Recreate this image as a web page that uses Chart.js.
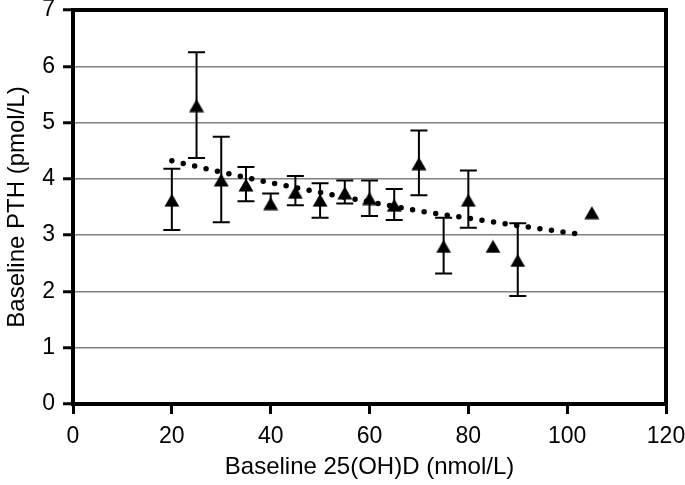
<!DOCTYPE html>
<html>
<head>
<meta charset="utf-8">
<script src="https://cdn.jsdelivr.net/npm/chart.js@4"></script>
<style>
  body { margin: 0; background: #fff; }
  #wrap { width: 685px; height: 485px; }
</style>
</head>
<body>
<div id="wrap"><canvas id="myChart" width="685" height="485"></canvas></div>
<script>
// baseline 25(OH)D groups (nmol/L)
const vitD = [20, 25, 30, 35, 40, 45, 50, 55, 60, 65, 70, 75, 80, 85, 90, 105];
// mean baseline PTH (pmol/L)
const pth = [3.62, 5.30, 3.98, 3.89, 3.56, 3.76, 3.62, 3.75, 3.65, 3.53, 4.27, 2.80, 3.62, 2.80, 2.55, 3.40];
// error bar ends (null = not shown)
const errHigh = [4.18, 6.25, 4.75, 4.21, 3.74, 4.05, 3.92, 3.97, 3.97, 3.82, 4.86, 3.31, 4.15, null, 3.21, null];
const errLow = [3.09, 4.37, 3.23, 3.60, null, 3.53, 3.31, 3.56, 3.34, 3.27, 3.71, 2.32, 3.13, null, 1.92, null];
// dotted trend line
const trendX = [20, 30, 40, 50, 60, 70, 80, 90, 103];
const trendY = [4.32, 4.12, 3.93, 3.76, 3.59, 3.43, 3.30, 3.17, 3.01];

const xTicks = [0, 20, 40, 60, 80, 100, 120];
const yTicks = [0, 1, 2, 3, 4, 5, 6, 7];

const fontFam = '"Liberation Sans", Arial, sans-serif';

// triangle marker centred on its box
const tri = document.createElement('canvas');
tri.width = 16;
tri.height = 14;
const tctx = tri.getContext('2d');
tctx.fillStyle = '#000';
tctx.beginPath();
tctx.moveTo(8, 0.5);
tctx.lineTo(15.5, 13.5);
tctx.lineTo(0.5, 13.5);
tctx.closePath();
tctx.fill();

const errorBars = {
    id: 'errorBars',
    beforeDatasetsDraw(chart) {
        const { ctx, scales: { x, y } } = chart;
        ctx.save();
        ctx.strokeStyle = '#000';
        ctx.lineWidth = 2;
        for (let i = 0; i < vitD.length; i++) {
            const px = x.getPixelForValue(vitD[i]);
            const py = y.getPixelForValue(pth[i]);
            [errHigh[i], errLow[i]].forEach(v => {
                if (v === null) return;
                const ey = y.getPixelForValue(v);
                ctx.beginPath();
                ctx.moveTo(px, py);
                ctx.lineTo(px, ey);
                ctx.moveTo(px - 8.5, ey);
                ctx.lineTo(px + 8.5, ey);
                ctx.stroke();
            });
        }
        ctx.restore();
    }
};

const frame = {
    id: 'frame',
    afterDraw(chart) {
        const { ctx, chartArea: { top, right, left, bottom } } = chart;
        ctx.save();
        ctx.strokeStyle = '#000';
        ctx.lineWidth = 4;
        ctx.beginPath();
        ctx.moveTo(left - 2, top);
        ctx.lineTo(right, top);
        ctx.lineTo(right, bottom + 2);
        ctx.stroke();
        ctx.restore();
    }
};

const ctx = document.getElementById('myChart').getContext('2d');
const myChart = new Chart(ctx, {
    type: 'scatter',
    data: {
        datasets: [{
            label: 'trend',
            data: trendX.map((v, i) => ({ x: v, y: trendY[i] })),
            showLine: true,
            borderColor: '#000',
            borderWidth: 5.5,
            borderDash: [0, 11.7],
            borderCapStyle: 'round',
            pointRadius: 0,
            order: 2
        }, {
            label: 'PTH',
            data: vitD.map((v, i) => ({ x: v, y: pth[i] })),
            pointStyle: tri,
            backgroundColor: '#000',
            borderColor: '#000',
            order: 1
        }]
    },
    options: {
        responsive: false,
        animation: false,
        layout: { padding: { top: 10, right: 19, left: 0, bottom: 0 } },
        plugins: {
            legend: { display: false },
            tooltip: { enabled: false }
        },
        scales: {
            x: {
                type: 'linear',
                min: 0,
                max: 120,
                afterFit(scale) {
                    scale.height = 81;
                    scale.paddingLeft = 0;
                    scale.paddingRight = 0;
                },
                afterBuildTicks(scale) { scale.ticks = xTicks.map(v => ({ value: v })); },
                border: { display: true, color: '#000', width: 4 },
                grid: { drawOnChartArea: false, drawTicks: true, tickLength: 10, tickWidth: 3, tickColor: '#000' },
                ticks: { color: '#000', padding: 9, font: { family: fontFam, size: 23 } },
                title: {
                    display: true,
                    text: 'Baseline 25(OH)D (nmol/L)',
                    color: '#000',
                    padding: { top: 0, bottom: 3 },
                    font: { family: fontFam, size: 24 }
                }
            },
            y: {
                type: 'linear',
                min: 0,
                max: 7,
                afterFit(scale) {
                    scale.width = 73;
                    scale.paddingTop = 0;
                    scale.paddingBottom = 0;
                },
                afterBuildTicks(scale) { scale.ticks = yTicks.map(v => ({ value: v })); },
                border: { display: true, color: '#000', width: 4 },
                grid: { color: '#808080', lineWidth: 1.5, drawTicks: true, tickLength: 10, tickWidth: 3, tickColor: '#000' },
                ticks: { color: '#000', padding: 8, font: { family: fontFam, size: 23 } },
                title: {
                    display: true,
                    text: 'Baseline PTH (pmol/L)',
                    color: '#000',
                    padding: { top: 3, bottom: 0 },
                    font: { family: fontFam, size: 24 }
                }
            }
        }
    },
    plugins: [errorBars, frame]
});
</script>
</body>
</html>
